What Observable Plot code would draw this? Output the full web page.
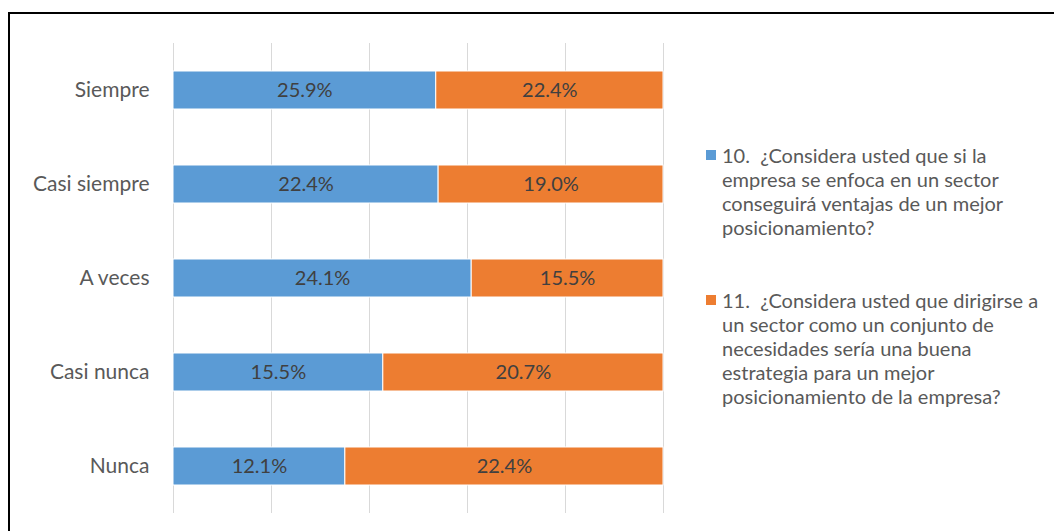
<!DOCTYPE html>
<html>
<head>
<meta charset="utf-8">
<script src="https://cdn.jsdelivr.net/npm/d3@7"></script>
<script src="https://cdn.jsdelivr.net/npm/@observablehq/plot@0.6"></script>
<style>
  html, body { margin: 0; padding: 0; background: #fff; }
  #wrap { position: relative; width: 1054px; height: 531px; overflow: hidden; font-family: Lato, "Noto Sans", sans-serif; }
  #frame { position: absolute; left: 8px; top: 12px; width: 1100px; height: 600px; border: 2px solid #000; box-sizing: border-box; pointer-events: none; }
  .leg { position: absolute; left: 706px; color: #595959; font-size: 20px; line-height: 24px; }
  .leg .sw { position: absolute; left: 0; top: 7px; width: 10px; height: 10px; }
  .leg .tx { margin-left: 16px; white-space: nowrap; }
</style>
</head>
<body>
<div id="wrap">
  <div id="chart"></div>
  <div id="frame"></div>
</div>
<script>
const categories = ["Siempre", "Casi siempre", "A veces", "Casi nunca", "Nunca"];
const series = [
  "10. ¿Considera usted que si la empresa se enfoca en un sector conseguirá ventajas de un mejor posicionamiento?",
  "11. ¿Considera usted que dirigirse a un sector como un conjunto de necesidades sería una buena estrategia para un mejor posicionamiento de la empresa?"
];
const legendLines = [
  ["10.\u00a0\u00a0¿Considera usted que si la", "empresa se enfoca en un sector", "conseguirá ventajas de un mejor", "posicionamiento?"],
  ["11.\u00a0\u00a0¿Considera usted que dirigirse a", "un sector como un conjunto de", "necesidades sería una buena", "estrategia para un mejor", "posicionamiento de la empresa?"]
];
const values10 = [25.9, 22.4, 24.1, 15.5, 12.1];
const values11 = [22.4, 19.0, 15.5, 20.7, 22.4];
const colors = ["#5B9BD5", "#ED7D31"];
const gridTicks = [0, 0.2, 0.4, 0.6, 0.8, 1];

const data = [];
categories.forEach((c, i) => {
  data.push({cat: c, series: series[0], value: values10[i]});
  data.push({cat: c, series: series[1], value: values11[i]});
});

const chart = Plot.plot({
  width: 1054,
  height: 531,
  marginLeft: 173,
  marginRight: 391,
  marginTop: 43,
  marginBottom: 18,
  style: {fontFamily: "Lato, 'Noto Sans', sans-serif", background: "transparent", overflow: "visible"},
  x: {domain: [0, 1], axis: null},
  y: {domain: categories, paddingInner: 0.6, paddingOuter: 0.3, label: null, axis: null},
  color: {domain: series, range: colors},
  marks: [
    Plot.ruleX(gridTicks, {stroke: "#D9D9D9", strokeWidth: 1}),
    Plot.barX(data, Plot.stackX({x: "value", y: "cat", fill: "series", z: "series", offset: "normalize", order: null, stroke: "#fff", strokeWidth: 1})),
    Plot.text(data, Plot.stackX({x: "value", y: "cat", z: "series", offset: "normalize", order: null, text: d => d.value.toFixed(1) + "%", fill: "#404040", fontSize: 20})),
    Plot.axisY({tickSize: 0, tickPadding: 24, fontSize: 21, color: "#595959", label: null})
  ]
});
document.getElementById("chart").appendChild(chart);

const wrap = document.getElementById("wrap");
const legTops = [143, 288];
legendLines.forEach((lines, i) => {
  const d = document.createElement("div");
  d.className = "leg";
  d.style.top = legTops[i] + "px";
  d.title = series[i];
  const sw = document.createElement("div");
  sw.className = "sw";
  sw.style.background = colors[i];
  d.appendChild(sw);
  lines.forEach(l => {
    const tx = document.createElement("div");
    tx.className = "tx";
    tx.textContent = l;
    d.appendChild(tx);
  });
  wrap.appendChild(d);
});
</script>
</body>
</html>
